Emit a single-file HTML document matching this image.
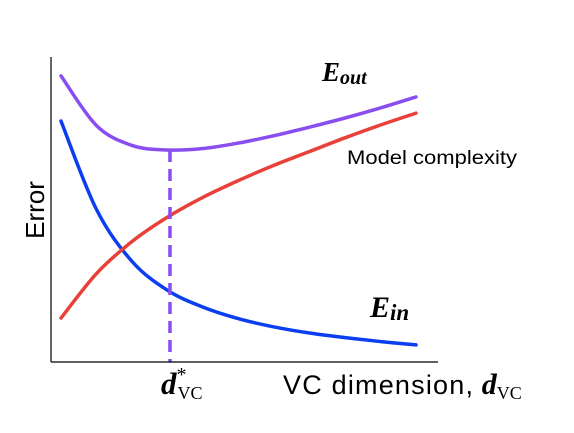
<!DOCTYPE html>
<html><head><meta charset="utf-8"><style>
body{margin:0;background:#fff;width:574px;height:433px;overflow:hidden}
svg{display:block}
</style></head><body>
<svg width="574" height="433" viewBox="0 0 574 433">
<g id="marks"></g>
<line x1="51" y1="57" x2="51" y2="362" stroke="#000" stroke-width="1.2"/>
<line x1="51" y1="362" x2="438" y2="362" stroke="#000" stroke-width="1.2"/>
<text x="44" y="210" transform="rotate(-90 44 210)" text-anchor="middle" font-family="Liberation Sans, sans-serif" font-size="26">Error</text>
<text x="283" y="394" font-family="Liberation Sans, sans-serif" font-size="27"><tspan textLength="190">VC dimension,</tspan> <tspan font-family="Liberation Serif, serif" font-style="italic" font-weight="bold" font-size="30">d</tspan><tspan font-family="Liberation Serif, serif" font-size="18" dy="5">VC</tspan></text>
<text x="161" y="394" font-family="Liberation Serif, serif"><tspan font-style="italic" font-weight="bold" font-size="31">d</tspan><tspan font-size="20" dx="0" dy="-13">*</tspan><tspan font-size="18" dx="-9" dy="18">VC</tspan></text>
<text x="322" y="81" font-family="Liberation Serif, serif" font-style="italic" font-weight="bold" font-size="27">E<tspan font-size="20" dy="3">out</tspan></text>
<text x="347" y="164" font-family="Liberation Sans, sans-serif" font-size="19" textLength="170" lengthAdjust="spacingAndGlyphs">Model complexity</text>
<text x="370" y="317" font-family="Liberation Serif, serif" font-style="italic" font-weight="bold" font-size="30">E<tspan font-size="23" dy="3">in</tspan></text>
</svg>
<script>
const dims=[0,1,2,3,4,5,6,7,8,9,10];
const eIn=[7.9,5.0,3.3,2.35,1.8,1.42,1.15,0.95,0.8,0.67,0.56];
const complexity=[1.44,2.9,3.95,4.75,5.4,5.95,6.45,6.9,7.35,7.77,8.16];
const eOut=[9.38,7.75,7.1,6.95,7.0,7.18,7.42,7.7,8.0,8.33,8.69];
const dStar=3.07;
const xS=d=>61+d*35.5, yS=v=>362-v*30.5;
function path(vals){
  const p=dims.map((d,i)=>[xS(d),yS(vals[i])]);
  let s=`M${p[0][0]},${p[0][1]}`;
  for(let i=0;i<p.length-1;i++){
    const p0=p[i-1]||p[i],p1=p[i],p2=p[i+1],p3=p[i+2]||p2;
    s+=` C${p1[0]+(p2[0]-p0[0])/6},${p1[1]+(p2[1]-p0[1])/6} ${p2[0]-(p3[0]-p1[0])/6},${p2[1]-(p3[1]-p1[1])/6} ${p2[0]},${p2[1]}`;
  }
  return s;
}
const g=document.getElementById('marks');const NS='http://www.w3.org/2000/svg';
function add(vals,color,name){
  const e=document.createElementNS(NS,'path');
  e.setAttribute('d',path(vals));e.setAttribute('fill','none');e.setAttribute('stroke',color);e.setAttribute('stroke-width','3.5');e.setAttribute('stroke-linecap','round');
  
  
  g.appendChild(e);
}
add(eIn,'#0a3ef0','e-in-curve');
add(complexity,'#e8413a','model-complexity-curve');
add(eOut,'#8a4df0','e-out-curve');
const l=document.createElementNS(NS,'line');
l.setAttribute('x1',xS(dStar));l.setAttribute('x2',xS(dStar));l.setAttribute('y1',yS(6.95));l.setAttribute('y2',362);
l.setAttribute('stroke','#8a4df0');l.setAttribute('stroke-width','3.5');l.setAttribute('stroke-dasharray','12 7');


g.appendChild(l);
</script>
</body></html>
